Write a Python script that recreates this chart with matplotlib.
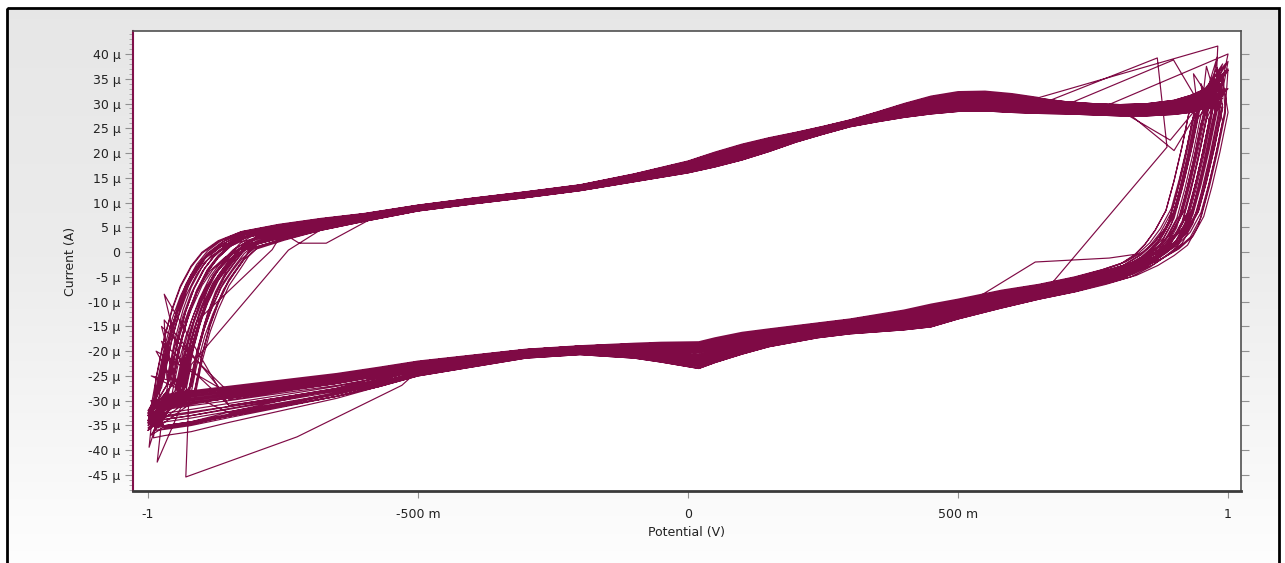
import numpy as np
import matplotlib.pyplot as plt
from matplotlib.ticker import MultipleLocator, FixedLocator, FuncFormatter
from matplotlib.patches import Rectangle

# ---- base sweeps (potential in V, current in uA) ----
# forward sweep  -1 V -> +1 V (upper branch)
fwd_E = [-0.985, -0.97, -0.955, -0.94, -0.92, -0.90, -0.87, -0.83, -0.76, -0.68,
         -0.60, -0.50, -0.40, -0.30, -0.20, -0.10, 0.0, 0.05, 0.10, 0.15,
         0.20, 0.25, 0.30, 0.35, 0.40, 0.45, 0.50, 0.55, 0.60, 0.65,
         0.70, 0.75, 0.80, 0.85, 0.90, 0.93, 0.955]
fwd_I = [-28, -20, -14, -9.5, -5, -2, 0.5, 2.4, 4.0, 5.6,
         7.0, 8.9, 10.3, 11.6, 13.0, 15.0, 17.2, 18.7, 20.2, 21.7,
         23.2, 24.6, 26.0, 27.3, 28.6, 29.7, 30.4, 30.5, 30.1, 29.6,
         29.2, 28.9, 28.7, 28.8, 29.3, 30.0, 31.0]
# how wide the bundle of cycles is along the forward sweep
fwd_w = [3, 3, 3, 3, 2.5, 2.2, 2.0, 1.8, 1.6, 1.2,
         0.8, 0.6, 0.6, 0.6, 0.6, 0.8, 1.2, 1.5, 1.6, 1.4,
         1.0, 0.8, 0.7, 1.0, 1.4, 1.8, 2.0, 2.0, 1.9, 1.6,
         1.3, 1.2, 1.2, 1.3, 1.5, 1.8, 2.0]
fwd_kw = [1, 1, 1, 1, 1, 1, 0.8, 0.5, 0.2] + [0] * 28

# reverse sweep  +1 V -> -1 V (lower branch)
rev_E = [0.99, 0.975, 0.96, 0.945, 0.925, 0.90, 0.87, 0.83, 0.78, 0.72,
         0.65, 0.58, 0.50, 0.45, 0.40, 0.30, 0.24, 0.15, 0.10, 0.05,
         0.02, -0.05, -0.10, -0.20, -0.30, -0.40, -0.50, -0.57, -0.65, -0.75,
         -0.85, -0.92, -0.97]
rev_I = [28, 20, 13, 7, 3, 0.5, -1.5, -3.5, -5.0, -6.5,
         -8.0, -9.5, -11.5, -12.8, -13.7, -15.0, -15.8, -17.3, -18.4, -19.8,
         -20.8, -20.2, -19.9, -19.8, -20.5, -22.0, -23.5, -25.0, -26.5, -28.0,
         -29.5, -30.5, -31.3]
rev_w = [2, 2, 2, 2, 2, 1.5, 1.5, 1.5, 1.5, 1.5,
         1.5, 1.8, 2.0, 2.3, 2.0, 1.5, 1.5, 1.8, 2.2, 2.5,
         2.7, 2.0, 1.5, 0.9, 0.9, 1.2, 1.5, 1.8, 2.0, 2.2,
         2.4, 2.5, 2.5]
rev_kw = [1, 1, 1, 1, 1, 0.9, 0.7, 0.5, 0.3, 0.1] + [0] * 23
rev_tw = [0] * 27 + [0.2, 0.4, 0.6, 0.8, 1.0, 1.0]

# ---- per cycle values ----
neg_vtx_E = [-1.0, -0.995, -1.0, -0.99, -0.995, -1.0, -0.985, -0.99, -1.0, -0.995,
             -0.99, -1.0, -0.998, -0.995, -0.983, -1.0, -0.99, -0.994, -1.0, -0.995,
             -0.93, -1.0, -0.99, -0.97, -1.0, -0.995, -0.975, -1.0, -0.99, -0.995,
             -1.0, -0.99, -0.995, -0.97, -1.0, -0.99, -0.985, -1.0, -0.98, -0.995,
             -1.0, -0.99, -0.975, -1.0]
neg_vtx_I = [-32, -33, -34.5, -35, -32.5, -36, -33.5, -31.5, -34, -37,
             -33, -35.5, -39.4, -32, -42.4, -34, -36.5, -25, -33, -35,
             -45.4, -32.5, -34, -13.7, -36, -33.5, -18, -35, -32, -34.5,
             -33, -31, -34, -8.5, -33, -36, -20, -32.5, -35.5, -30,
             -34.5, -37.5, -15, -33]
pos_vtx_E = [0.985, 0.99, 0.975, 1.0, 0.98, 0.97, 0.99, 0.995, 0.981, 0.975,
             0.99, 0.98, 0.936, 1.0, 0.985, 0.97, 0.869, 0.99, 0.98, 0.995,
             0.975, 0.899, 0.99, 0.98, 0.97, 1.0, 0.985, 0.99, 0.96, 0.98,
             0.995, 0.985, 0.975, 0.99, 0.96, 1.0, 0.985, 0.97, 0.99, 0.95,
             0.98, 1.0, 0.975, 0.99]
pos_vtx_I = [32, 34, 31, 36.7, 33, 30.5, 35, 38, 41.6, 32.5,
             34.5, 37.3, 36, 40, 33.5, 31.5, 39.2, 35.5, 30, 33,
             32, 38.8, 36, 31, 34, 38.5, 33, 35, 29.5, 39.4,
             32.5, 34, 35, 31, 37.5, 33, 36, 29, 38, 34,
             31.5, 37, 35, 32]
fwd_shift = [0.2, -0.5, 0.8, -0.1, 0.4, -0.9, 0.6, -0.3, 1.0, 0.0,
             -0.7, 0.3, 0.9, -0.4, 0.5, -0.8, 0.1, 0.7, -0.6, 0.2,
             -1.0, 0.4, -0.2, 0.8, -0.5, 0.6, -0.9, 0.0, 0.3, -0.3,
             0.7, -0.1, 0.5, -0.4, 0.9, -0.7, 0.1, -0.2, 0.6, -1.0,
             0.3, 0.8, -0.6, 0.4]
knee_neg = [0.01, 0.04, 0.0, 0.06, 0.02, 0.05, 0.03, 0.07, 0.01, 0.045,
            0.02, 0.055, 0.0, 0.035, 0.065, 0.015, 0.05, 0.025, 0.04, 0.0,
            0.06, 0.03, 0.07, 0.02, 0.045, 0.01, 0.055, 0.035, 0.005, 0.05,
            0.025, 0.04, 0.03, 0.06, 0.015, 0.07, 0.04, 0.0, 0.05, 0.025,
            0.065, 0.01, 0.045, 0.03]
rev_shift = [0.3, -0.6, 0.9, -0.2, 0.5, -1.0, 0.1, 0.7, -0.4, 0.2,
             -0.8, 0.6, -0.1, 0.8, -0.5, 0.4, -0.9, 0.0, 1.0, -0.3,
             0.5, -0.7, 0.2, -0.2, 0.7, -0.6, 0.3, -1.0, 0.6, -0.4,
             0.9, 0.0, -0.3, 0.6, -0.8, 0.4, -0.5, 0.9, -0.1, 0.3,
             -0.7, 0.5, -0.2, 0.8]
rev_tail = [0, -1, 0, -2, 0, -1.5, 0, 0, -3, 0,
            -1, 0, -4, 0, -2.5, 0, -1, 0, 0, -3.5,
            -5, 0, -1, 0, -2, 0, 0, -1.5, 0, -3,
            0, 0, -1, 0, -2.5, 0, -3, 0, -1, 0,
            -4, 0, -1.5, 0]
knee_pos = [-0.01, -0.03, 0.0, -0.05, -0.02, -0.04, 0.01, -0.06, -0.015, -0.035,
            -0.025, 0.0, -0.045, -0.01, -0.055, -0.02, -0.03, 0.005, -0.04, -0.015,
            -0.05, -0.025, -0.005, -0.035, -0.06, -0.01, -0.045, -0.02, 0.0, -0.03,
            -0.05, -0.015, -0.02, -0.045, 0.0, -0.03, -0.055, -0.01, -0.04, -0.02,
            -0.05, 0.005, -0.035, -0.025]

# dropped samples (glitches) in some cycles
gap_cycle = [3, 5, 7, 8, 9, 13, 16, 16, 16, 19, 21, 22, 25, 25, 27, 32, 35, 41]
gap_branch = ['fwd', 'fwd', 'rev', 'fwd', 'fwd', 'fwd', 'fwd', 'rev', 'rev', 'rev',
              'fwd', 'rev', 'fwd', 'rev', 'fwd', 'rev', 'rev', 'rev']
gap_lo = [0.82, -0.91, 0.50, 0.69, -0.90, 0.75, 0.69, 0.66, -0.99, -0.99,
          0.72, -0.99, 0.82, -0.99, -0.75, -0.99, -0.99, -0.99]
gap_hi = [0.99, -0.73, 0.80, 0.99, -0.76, 0.99, 0.99, 0.999, -0.90, -0.53,
          0.99, -0.85, 0.99, -0.86, -0.57, -0.86, -0.87, -0.85]
gap_pts = [[(0.893, 22.6)], [(-0.74, 0.4)], [(0.78, -1.2), (0.643, -2.0), (0.528, -9.7)],
           [], [(-0.77, 0.5)], [], [], [(0.887, 21.2)], [],
           [(-0.53, -26.9), (-0.724, -37.3)], [], [], [(0.90, 20.5)], [],
           [(-0.72, 1.8), (-0.67, 1.8), (-0.565, 8.0)], [], [], []]


def apply_gaps(c, branch, E, I):
    outE, outI = list(E), list(I)
    for k in range(len(gap_cycle)):
        if gap_cycle[k] != c or gap_branch[k] != branch:
            continue
        newE, newI, done = [], [], False
        for e, i in zip(outE, outI):
            if gap_lo[k] < e < gap_hi[k]:
                if not done:
                    newE += [p[0] for p in gap_pts[k]]
                    newI += [p[1] for p in gap_pts[k]]
                    done = True
                continue
            newE.append(e)
            newI.append(i)
        outE, outI = newE, newI
    return outE, outI


E_all, I_all = [], []
for c in range(len(neg_vtx_E)):
    eF = np.array(fwd_E) + knee_neg[c] * np.array(fwd_kw)
    iF = np.array(fwd_I) + fwd_shift[c] * np.array(fwd_w)
    eR = np.array(rev_E) + knee_pos[c] * np.array(rev_kw)
    iR = np.array(rev_I) + rev_shift[c] * np.array(rev_w) + rev_tail[c] * np.array(rev_tw)
    eF, iF = apply_gaps(c, 'fwd', eF, iF)
    eR, iR = apply_gaps(c, 'rev', eR, iR)
    E_all += [neg_vtx_E[c]] + eF + [pos_vtx_E[c]] + eR
    I_all += [neg_vtx_I[c]] + iF + [pos_vtx_I[c]] + iR

W, H = 1285, 563
fig = plt.figure(figsize=(W / 100, H / 100), dpi=100)

# grey panel behind the chart
bg = fig.add_axes([0, 0, 1, 1], zorder=-10)
bg.set_xlim(0, W)
bg.set_ylim(H, 0)
bg.axis('off')
rows = np.interp(np.arange(H), [0, 250, 563], [0.905, 0.925, 0.995])
bg.imshow(np.dstack([rows[:, None]] * 3), extent=[7, 1279, H, 8], aspect='auto')
bg.add_patch(Rectangle((7, 8), 1272, H, fill=False, ec='black', lw=2))

ax = fig.add_axes([133 / W, 1 - 491 / H, (1241 - 133) / W, (491 - 31) / H])
ax.set_facecolor('white')
ax.plot(E_all, I_all, color='#7f0a45', lw=0.85)

ax.set_xlim(-1.0278, 1.024)
ax.set_ylim(-48.23, 44.64)


def fmt_x(v, pos):
    if abs(v) < 1e-9:
        return '0'
    if abs(abs(v) - 1) < 1e-9:
        return '%d' % round(v)
    return '%d m' % round(v * 1000)


def fmt_y(v, pos):
    if abs(v) < 1e-9:
        return '0'
    return '%d µ' % round(v)


ax.xaxis.set_major_locator(FixedLocator([-1, -0.5, 0, 0.5, 1]))
ax.xaxis.set_major_formatter(FuncFormatter(fmt_x))
ax.yaxis.set_major_locator(MultipleLocator(5))
ax.yaxis.set_minor_locator(MultipleLocator(1))
ax.yaxis.set_major_formatter(FuncFormatter(fmt_y))

ax.tick_params(axis='x', which='major', length=5, color='#909090', labelsize=9,
               labelcolor='#222222', pad=7)
ax.tick_params(axis='y', which='major', length=6, color='#909090', labelsize=9,
               labelcolor='#222222', pad=3, right=True, labelright=False)
ax.tick_params(axis='y', which='minor', length=3, color='#a0a0a0', right=False)

for s in ['top', 'right']:
    ax.spines[s].set_color('#505050')
    ax.spines[s].set_linewidth(1.2)
ax.spines['bottom'].set_color('#3a3a3a')
ax.spines['bottom'].set_linewidth(2)
ax.spines['left'].set_color('#80104a')
ax.spines['left'].set_linewidth(1.5)

ax.set_xlabel('Potential (V)', fontsize=9, color='#222222', labelpad=4)
ax.set_ylabel('Current (A)', fontsize=9, color='#222222', labelpad=8)

fig.savefig('out.png', dpi=100)
